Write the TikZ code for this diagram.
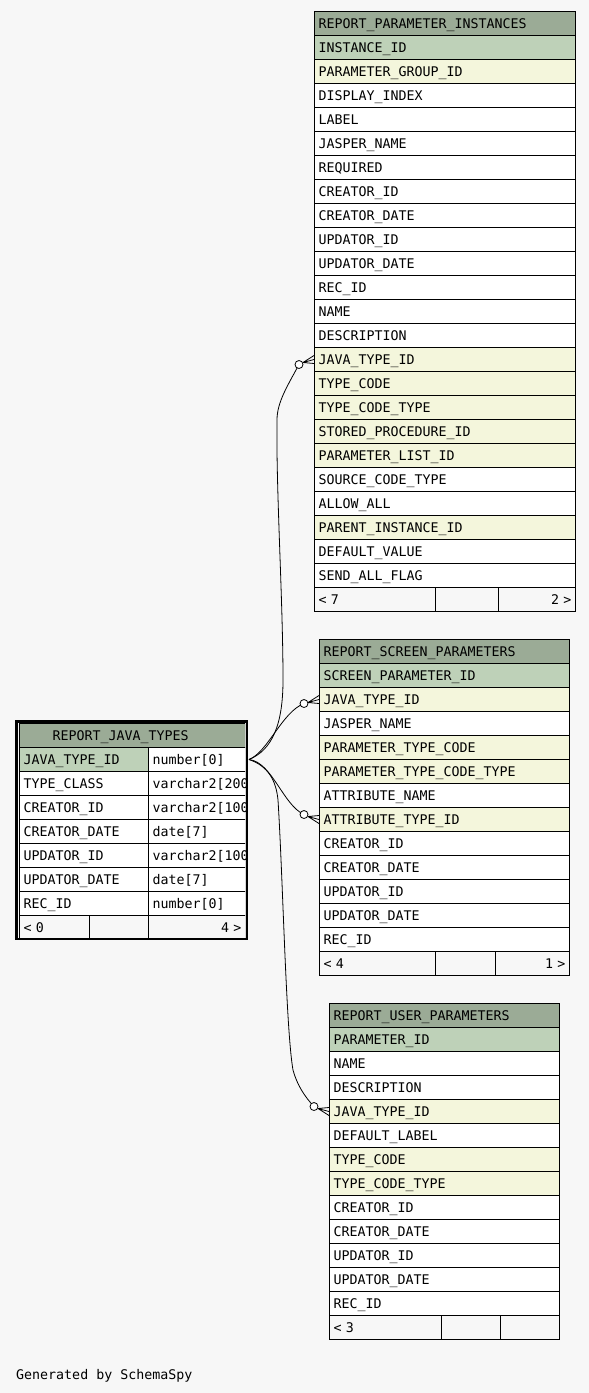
\documentclass[tikz,border=0pt]{standalone}
\usepackage{fontspec}
\usepackage{tikz}
\usetikzlibrary{arrows,arrows.meta}

\newfontfamily\schemafont{DejaVu Sans Mono}

\definecolor{pagebg}{HTML}{F7F7F7}
\definecolor{headbg}{HTML}{9BAB96}
\definecolor{pkbg}{HTML}{BED1B8}
\definecolor{fkbg}{HTML}{F4F6DC}

\begin{document}
\begin{tikzpicture}[
x=1pt, y=-1pt,
cell/.style={draw, line width=1pt, anchor=north west, minimum height=24pt,
  inner xsep=4pt, inner ysep=0pt, text height=9.7pt, text depth=0pt, align=left,
  font=\schemafont\fontsize{13.3}{16}\selectfont},
head/.style={cell, fill=headbg},
pkcell/.style={cell, fill=pkbg},
fkcell/.style={cell, fill=fkbg},
plain/.style={cell, fill=white},
foot/.style={cell, fill=pagebg},
rel/.style={line width=0.8pt},
ring/.style={line width=0.8pt, fill=white} ]

\useasboundingbox[fill=pagebg] (0,0) rectangle (589,1393);

% REPORT_PARAMETER_INSTANCES
\node[head, text width=253pt] (rpih) at (314,11) {REPORT\_PARAMETER\_INSTANCES};
\node[pkcell, text width=253pt] (rpi1) at (314,35) {INSTANCE\_ID};
\node[fkcell, text width=253pt] (rpi2) at (314,59) {PARAMETER\_GROUP\_ID};
\node[plain, text width=253pt] (rpi3) at (314,83) {DISPLAY\_INDEX};
\node[plain, text width=253pt] (rpi4) at (314,107) {LABEL};
\node[plain, text width=253pt] (rpi5) at (314,131) {JASPER\_NAME};
\node[plain, text width=253pt] (rpi6) at (314,155) {REQUIRED};
\node[plain, text width=253pt] (rpi7) at (314,179) {CREATOR\_ID};
\node[plain, text width=253pt] (rpi8) at (314,203) {CREATOR\_DATE};
\node[plain, text width=253pt] (rpi9) at (314,227) {UPDATOR\_ID};
\node[plain, text width=253pt] (rpi10) at (314,251) {UPDATOR\_DATE};
\node[plain, text width=253pt] (rpi11) at (314,275) {REC\_ID};
\node[plain, text width=253pt] (rpi12) at (314,299) {NAME};
\node[plain, text width=253pt] (rpi13) at (314,323) {DESCRIPTION};
\node[fkcell, text width=253pt] (rpi14) at (314,347) {JAVA\_TYPE\_ID};
\node[fkcell, text width=253pt] (rpi15) at (314,371) {TYPE\_CODE};
\node[fkcell, text width=253pt] (rpi16) at (314,395) {TYPE\_CODE\_TYPE};
\node[fkcell, text width=253pt] (rpi17) at (314,419) {STORED\_PROCEDURE\_ID};
\node[fkcell, text width=253pt] (rpi18) at (314,443) {PARAMETER\_LIST\_ID};
\node[plain, text width=253pt] (rpi19) at (314,467) {SOURCE\_CODE\_TYPE};
\node[plain, text width=253pt] (rpi20) at (314,491) {ALLOW\_ALL};
\node[fkcell, text width=253pt] (rpi21) at (314,515) {PARENT\_INSTANCE\_ID};
\node[plain, text width=253pt] (rpi22) at (314,539) {DEFAULT\_VALUE};
\node[plain, text width=253pt] (rpi23) at (314,563) {SEND\_ALL\_FLAG};
\node[foot, text width=113pt] (rpif1) at (314,587) {< 7};
\node[foot, text width=55pt] (rpif2) at (435,587) {};
\node[foot, text width=69pt, align=right] (rpif3) at (498,587) {2 >};

% REPORT_SCREEN_PARAMETERS
\node[head, text width=242pt] (rsph) at (319,639) {REPORT\_SCREEN\_PARAMETERS};
\node[pkcell, text width=242pt] (rsp1) at (319,663) {SCREEN\_PARAMETER\_ID};
\node[fkcell, text width=242pt] (rsp2) at (319,687) {JAVA\_TYPE\_ID};
\node[plain, text width=242pt] (rsp3) at (319,711) {JASPER\_NAME};
\node[fkcell, text width=242pt] (rsp4) at (319,735) {PARAMETER\_TYPE\_CODE};
\node[fkcell, text width=242pt] (rsp5) at (319,759) {PARAMETER\_TYPE\_CODE\_TYPE};
\node[plain, text width=242pt] (rsp6) at (319,783) {ATTRIBUTE\_NAME};
\node[fkcell, text width=242pt] (rsp7) at (319,807) {ATTRIBUTE\_TYPE\_ID};
\node[plain, text width=242pt] (rsp8) at (319,831) {CREATOR\_ID};
\node[plain, text width=242pt] (rsp9) at (319,855) {CREATOR\_DATE};
\node[plain, text width=242pt] (rsp10) at (319,879) {UPDATOR\_ID};
\node[plain, text width=242pt] (rsp11) at (319,903) {UPDATOR\_DATE};
\node[plain, text width=242pt] (rsp12) at (319,927) {REC\_ID};
\node[foot, text width=108pt] (rspf1) at (319,951) {< 4};
\node[foot, text width=52pt] (rspf2) at (435,951) {};
\node[foot, text width=66pt, align=right] (rspf3) at (495,951) {1 >};

% REPORT_USER_PARAMETERS
\node[head, text width=222pt] (ruph) at (329,1003) {REPORT\_USER\_PARAMETERS};
\node[pkcell, text width=222pt] (rup1) at (329,1027) {PARAMETER\_ID};
\node[plain, text width=222pt] (rup2) at (329,1051) {NAME};
\node[plain, text width=222pt] (rup3) at (329,1075) {DESCRIPTION};
\node[fkcell, text width=222pt] (rup4) at (329,1099) {JAVA\_TYPE\_ID};
\node[plain, text width=222pt] (rup5) at (329,1123) {DEFAULT\_LABEL};
\node[fkcell, text width=222pt] (rup6) at (329,1147) {TYPE\_CODE};
\node[fkcell, text width=222pt] (rup7) at (329,1171) {TYPE\_CODE\_TYPE};
\node[plain, text width=222pt] (rup8) at (329,1195) {CREATOR\_ID};
\node[plain, text width=222pt] (rup9) at (329,1219) {CREATOR\_DATE};
\node[plain, text width=222pt] (rup10) at (329,1243) {UPDATOR\_ID};
\node[plain, text width=222pt] (rup11) at (329,1267) {UPDATOR\_DATE};
\node[plain, text width=222pt] (rup12) at (329,1291) {REC\_ID};
\node[foot, text width=104pt] (rupf1) at (329,1315) {< 3};
\node[foot, text width=51pt] (rupf2) at (441,1315) {};
\node[foot, text width=51pt] (rupf3) at (500,1315) {};

% REPORT_JAVA_TYPES
\begin{scope}
\clip (19,723) rectangle (245,939);
\node[head, text width=218pt] (rjth) at (19,723) {\hspace*{29pt}REPORT\_JAVA\_TYPES};
\node[pkcell, text width=121pt] (rjt1) at (19,747) {JAVA\_TYPE\_ID};
\node[plain, text width=89pt] (rjt1t) at (148,747) {number[0]};
\node[plain, text width=121pt] (rjt2) at (19,771) {TYPE\_CLASS};
\node[plain, text width=89pt] (rjt2t) at (148,771) {varchar2[200]};
\node[plain, text width=121pt] (rjt3) at (19,795) {CREATOR\_ID};
\node[plain, text width=89pt] (rjt3t) at (148,795) {varchar2[100]};
\node[plain, text width=121pt] (rjt4) at (19,819) {CREATOR\_DATE};
\node[plain, text width=89pt] (rjt4t) at (148,819) {date[7]};
\node[plain, text width=121pt] (rjt5) at (19,843) {UPDATOR\_ID};
\node[plain, text width=89pt] (rjt5t) at (148,843) {varchar2[100]};
\node[plain, text width=121pt] (rjt6) at (19,867) {UPDATOR\_DATE};
\node[plain, text width=89pt] (rjt6t) at (148,867) {date[7]};
\node[plain, text width=121pt] (rjt7) at (19,891) {REC\_ID};
\node[plain, text width=89pt] (rjt7t) at (148,891) {number[0]};
\node[foot, text width=62pt] (rjtf1) at (19,915) {< 0};
\node[foot, text width=51pt] (rjtf2) at (89,915) {};
\node[foot, text width=89pt, align=right] (rjtf3) at (148,915) {4 >};
\end{scope}
\draw[line width=2.5pt] (16.25,721.25) rectangle (246.75,938.75);

\node[anchor=west, inner sep=0pt, text height=9.7pt, text depth=0pt,
  font=\schemafont\fontsize{13.3}{16}\selectfont] (gen) at (16,1374.5) {Generated by SchemaSpy};

% relationships
\coordinate (src) at ([xshift=3pt]rjt1t.east);
\coordinate (c1) at ([xshift=-15pt,yshift=-5pt]rpi14.west);
\coordinate (a1) at ([xshift=-11pt,yshift=-3pt]rpi14.west);
\coordinate (c2) at ([xshift=-15pt,yshift=-4pt]rsp2.west);
\coordinate (a2) at ([xshift=-11pt,yshift=-3pt]rsp2.west);
\coordinate (c3) at ([xshift=-15pt,yshift=5pt]rsp7.west);
\coordinate (a3) at ([xshift=-11pt,yshift=3pt]rsp7.west);
\coordinate (c4) at ([xshift=-15pt,yshift=5pt]rup4.west);
\coordinate (a4) at ([xshift=-11pt,yshift=3pt]rup4.west);

\draw[rel] (src) .. controls (272,750) and (283,725) .. (283,680)
  .. controls (283,600) and (276,490) .. (277,420)
  .. controls (277,402) and (288,385) .. (c1);
\draw[rel] (src) .. controls (268,752) and (282,712) .. (c2);
\draw[rel] (src) .. controls (272,762) and (283,805) .. (c3);
\draw[rel] (src) .. controls (268,766) and (276,780) .. (278,800)
  .. controls (283,880) and (286,1030) .. (293,1070)
  .. controls (297,1085) and (305,1097) .. (c4);

\draw[rel] (a1) -- ([yshift=4pt]rpi14.west) (a1) -- (rpi14.west) (a1) -- ([yshift=-4pt]rpi14.west);
\draw[rel] (a2) -- ([yshift=4pt]rsp2.west) (a2) -- (rsp2.west) (a2) -- ([yshift=-4pt]rsp2.west);
\draw[rel] (a3) -- ([yshift=4pt]rsp7.west) (a3) -- (rsp7.west) (a3) -- ([yshift=-4pt]rsp7.west);
\draw[rel] (a4) -- ([yshift=4pt]rup4.west) (a4) -- (rup4.west) (a4) -- ([yshift=-4pt]rup4.west);
\draw[ring] (c1) circle (4pt);
\draw[ring] (c2) circle (4pt);
\draw[ring] (c3) circle (4pt);
\draw[ring] (c4) circle (4pt);

\end{tikzpicture}
\end{document}
